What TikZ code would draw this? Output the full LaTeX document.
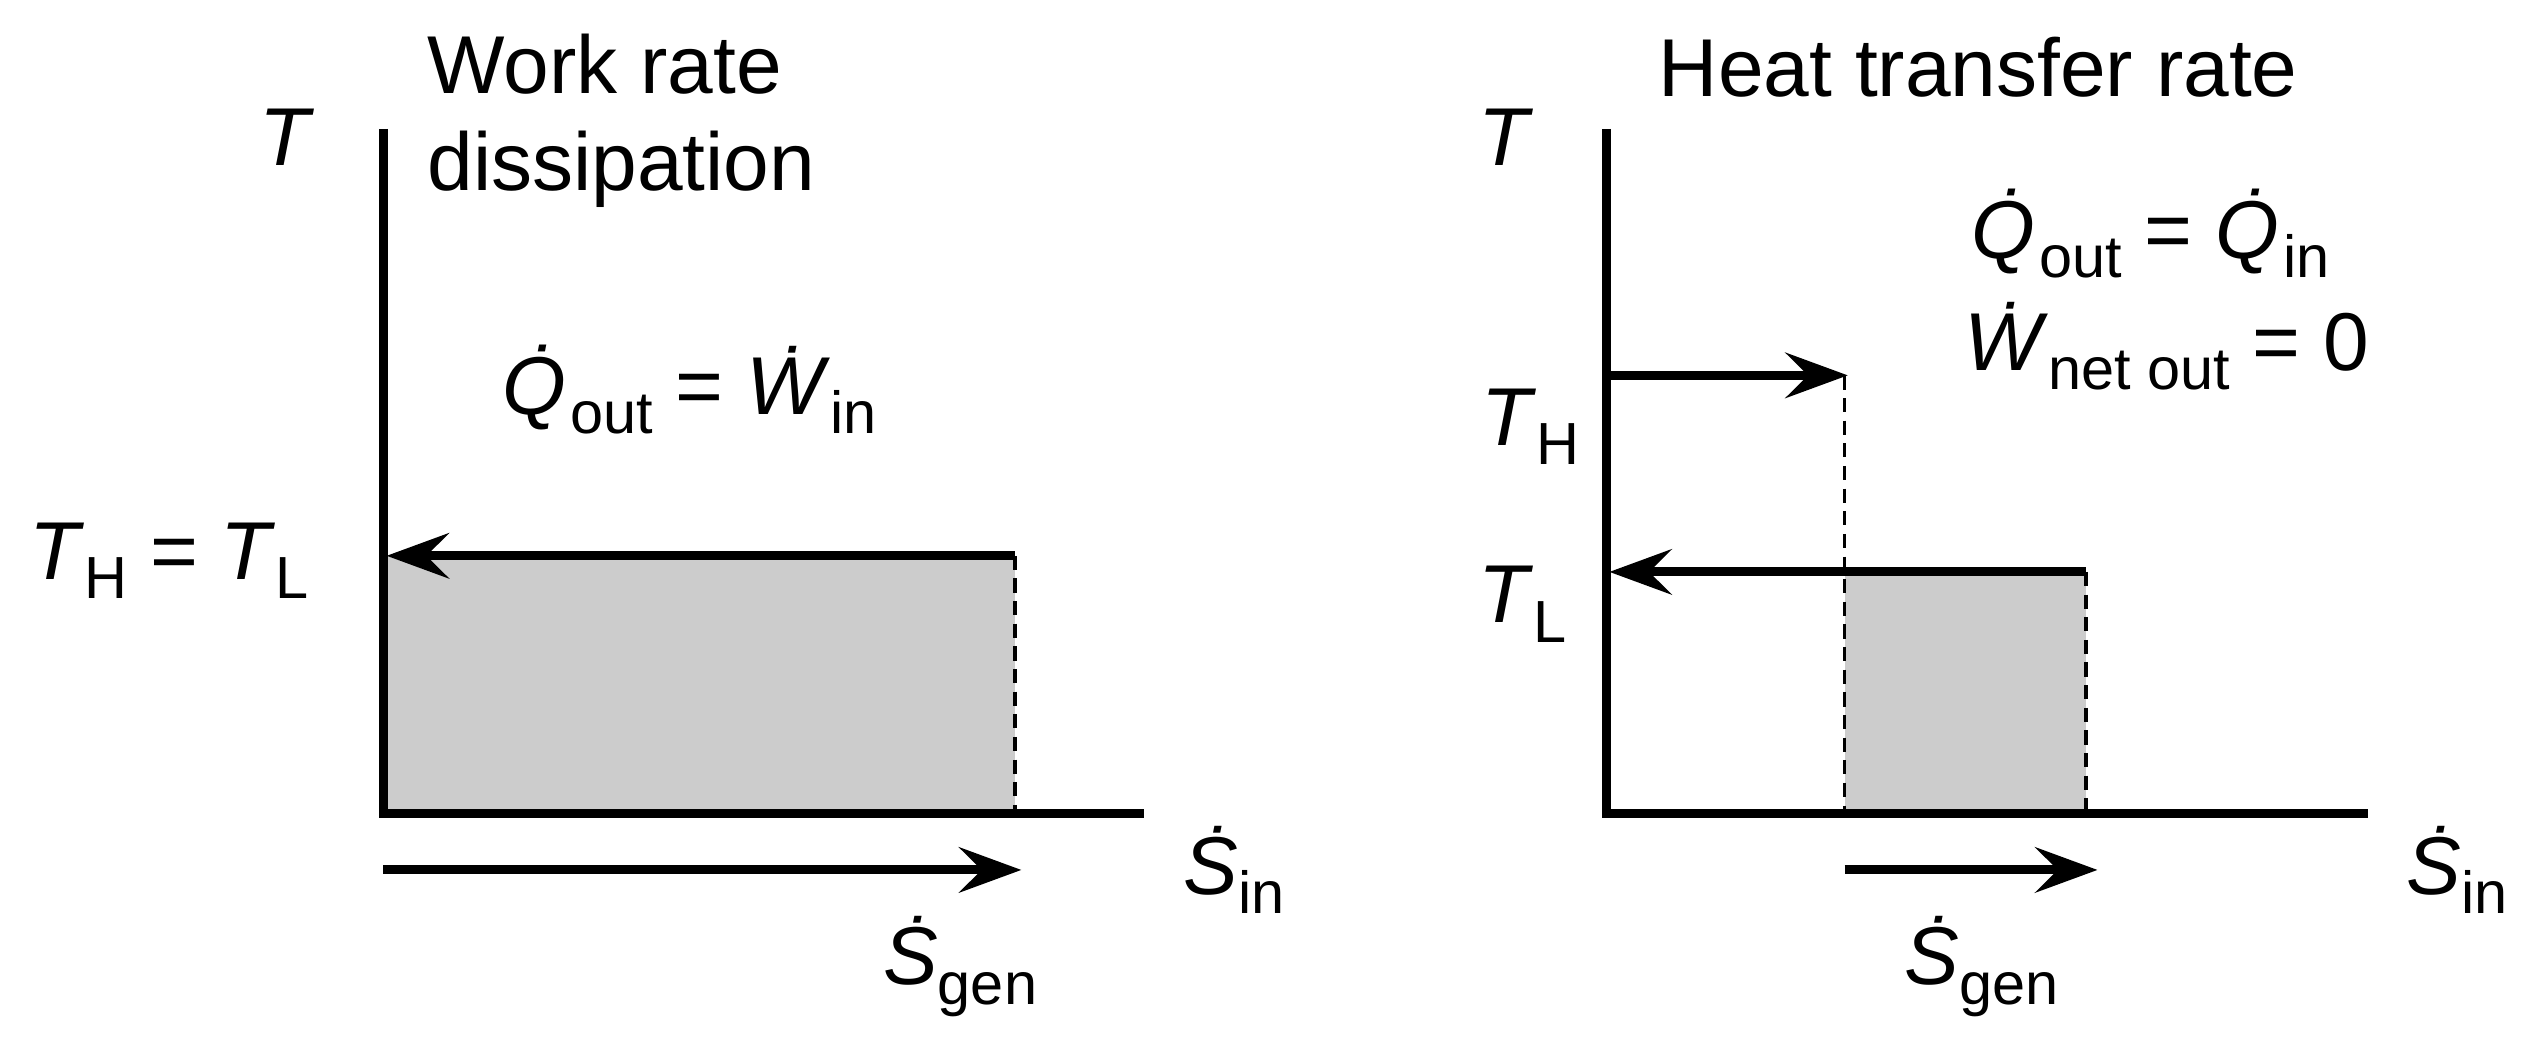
\documentclass[tikz,border=0pt]{standalone}
\usepackage{fontspec}
\setmainfont{Liberation Sans}
\usetikzlibrary{arrows.meta}
\newcommand{\sbx}[1]{\raisebox{-0.45ex}{\fontsize{21}{21}\selectfont #1}}
\newcommand{\vd}[1]{\textit{\.{#1}}}
\begin{document}
\begin{tikzpicture}[x=0.02cm,y=-0.02cm,
  ax/.style={line width=3.2pt},
  ar/.style={line width=3.2pt,-{Stealth[length=22pt,width=16pt,inset=8pt]}},
  ds/.style={dash pattern=on 5pt off 3pt,line width=1.3pt},
  lb/.style={font=\fontsize{29}{34}\selectfont,inner sep=0pt}]
\useasboundingbox (0,0) rectangle (1568,650);
% left
\fill[gray!40] (238,345) rectangle (630,505);
\draw[ds] (630,345) -- (630,505);
\draw[ax] (238,80) -- (238,505) -- (710,505);
\draw[ar] (630,345) -- (240,345);
\draw[ar] (238,540) -- (634,540);
\node[lb] (t1) at (178,85) {\textit{T}};
\node[lb,align=left,anchor=west] (wr) at (265,75) {Work rate\\dissipation};
\node[lb] (q1) at (428,242) {\vd{Q}\sbx{out} = \vd{W}\sbx{in}};
\node[lb] (th1) at (105,348) {\textit{T}\sbx{H} = \textit{T}\sbx{L}};
\node[lb] (si1) at (766,540) {\vd{S}\sbx{in}};
\node[lb] (sg1) at (596,600) {\vd{S}\sbx{gen}};
% right
\fill[gray!40] (1145,355) rectangle (1295,505);
\draw[ds] (1145,233) -- (1145,505);
\draw[ds] (1295,355) -- (1295,505);
\draw[ax] (997,80) -- (997,505) -- (1470,505);
\draw[ar] (997,233) -- (1147,233);
\draw[ar] (1295,355) -- (999,355);
\draw[ar] (1145,540) -- (1302,540);
\node[lb] (t2) at (935,85) {\textit{T}};
\node[lb] (ht) at (1228,42) {Heat transfer rate};
\node[lb] (q2) at (1335,145) {\vd{Q}\sbx{out} = \vd{Q}\sbx{in}};
\node[lb] (w2) at (1345,215) {\vd{W}\sbx{net out} = 0};
\node[lb] (th2) at (950,265) {\textit{T}\sbx{H}};
\node[lb] (tl2) at (945,375) {\textit{T}\sbx{L}};
\node[lb] (si2) at (1525,540) {\vd{S}\sbx{in}};
\node[lb] (sg2) at (1230,600) {\vd{S}\sbx{gen}};
\end{tikzpicture}
\end{document}
